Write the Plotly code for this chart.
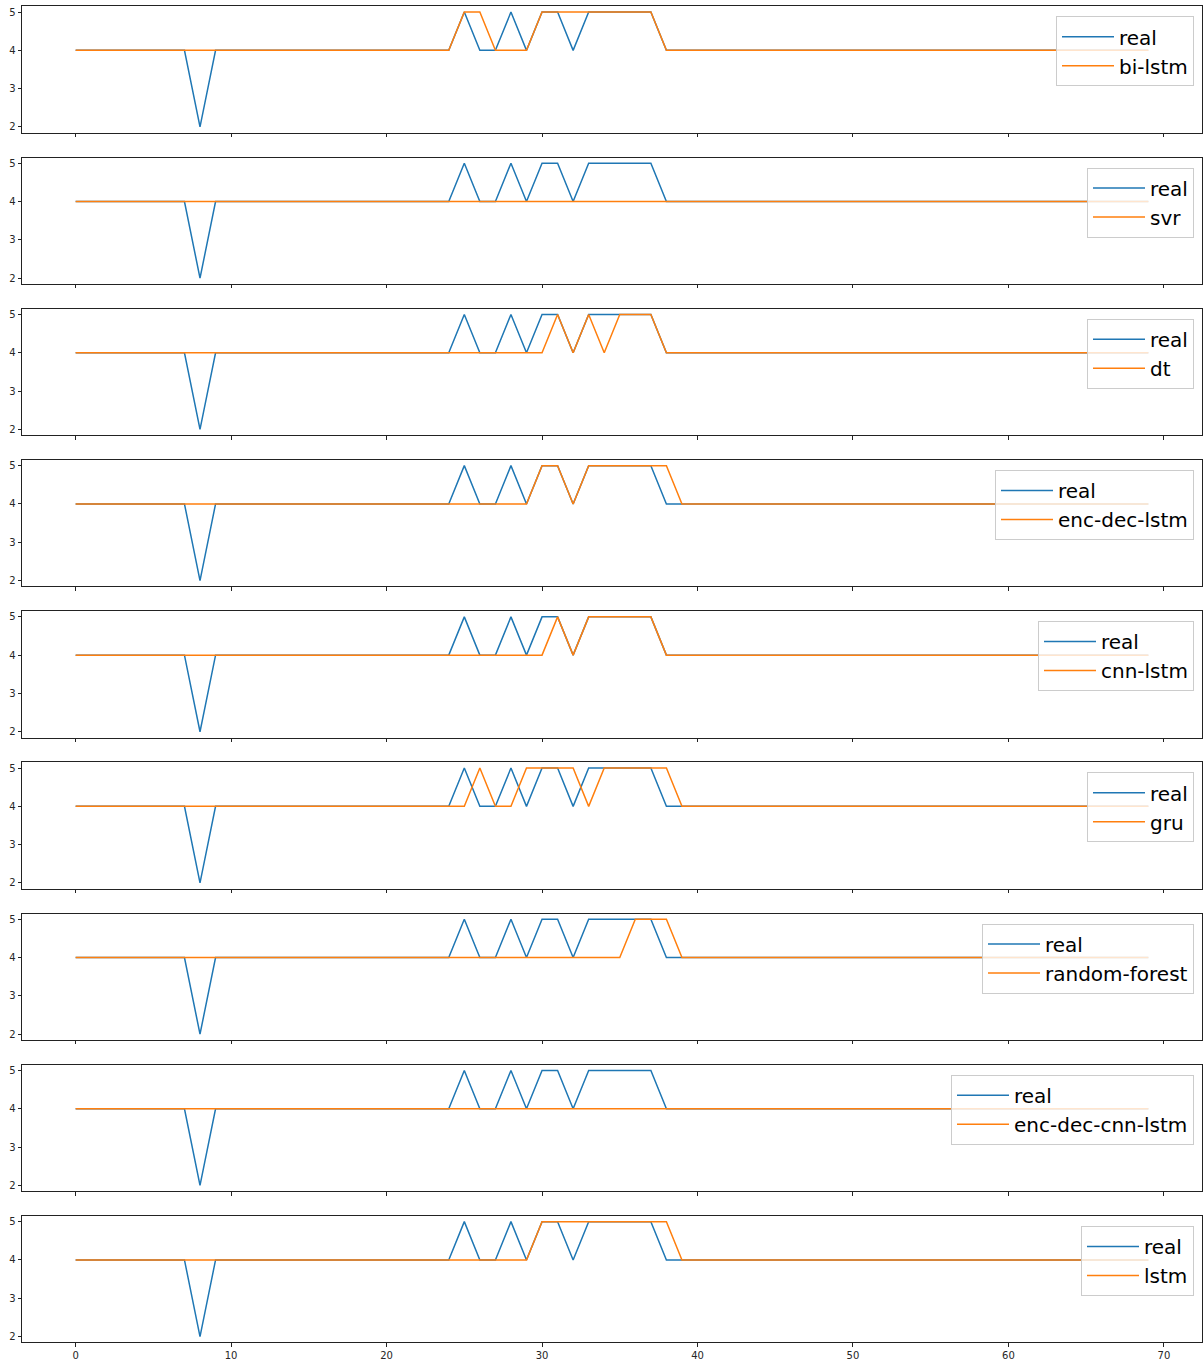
import plotly.graph_objects as go

x_values = list(range(70))

real = [4, 4, 4, 4, 4, 4, 4, 4, 2, 4,
        4, 4, 4, 4, 4, 4, 4, 4, 4, 4,
        4, 4, 4, 4, 4, 5, 4, 4, 5, 4,
        5, 5, 4, 5, 5, 5, 5, 5, 4, 4,
        4, 4, 4, 4, 4, 4, 4, 4, 4, 4,
        4, 4, 4, 4, 4, 4, 4, 4, 4, 4,
        4, 4, 4, 4, 4, 4, 4, 4, 4, 4]

bi_lstm = [4, 4, 4, 4, 4, 4, 4, 4, 4, 4,
           4, 4, 4, 4, 4, 4, 4, 4, 4, 4,
           4, 4, 4, 4, 4, 5, 5, 4, 4, 4,
           5, 5, 5, 5, 5, 5, 5, 5, 4, 4,
           4, 4, 4, 4, 4, 4, 4, 4, 4, 4,
           4, 4, 4, 4, 4, 4, 4, 4, 4, 4,
           4, 4, 4, 4, 4, 4, 4, 4, 4, 4]

svr = [4, 4, 4, 4, 4, 4, 4, 4, 4, 4,
       4, 4, 4, 4, 4, 4, 4, 4, 4, 4,
       4, 4, 4, 4, 4, 4, 4, 4, 4, 4,
       4, 4, 4, 4, 4, 4, 4, 4, 4, 4,
       4, 4, 4, 4, 4, 4, 4, 4, 4, 4,
       4, 4, 4, 4, 4, 4, 4, 4, 4, 4,
       4, 4, 4, 4, 4, 4, 4, 4, 4, 4]

dt = [4, 4, 4, 4, 4, 4, 4, 4, 4, 4,
      4, 4, 4, 4, 4, 4, 4, 4, 4, 4,
      4, 4, 4, 4, 4, 4, 4, 4, 4, 4,
      4, 5, 4, 5, 4, 5, 5, 5, 4, 4,
      4, 4, 4, 4, 4, 4, 4, 4, 4, 4,
      4, 4, 4, 4, 4, 4, 4, 4, 4, 4,
      4, 4, 4, 4, 4, 4, 4, 4, 4, 4]

enc_dec_lstm = [4, 4, 4, 4, 4, 4, 4, 4, 4, 4,
                4, 4, 4, 4, 4, 4, 4, 4, 4, 4,
                4, 4, 4, 4, 4, 4, 4, 4, 4, 4,
                5, 5, 4, 5, 5, 5, 5, 5, 5, 4,
                4, 4, 4, 4, 4, 4, 4, 4, 4, 4,
                4, 4, 4, 4, 4, 4, 4, 4, 4, 4,
                4, 4, 4, 4, 4, 4, 4, 4, 4, 4]

cnn_lstm = [4, 4, 4, 4, 4, 4, 4, 4, 4, 4,
            4, 4, 4, 4, 4, 4, 4, 4, 4, 4,
            4, 4, 4, 4, 4, 4, 4, 4, 4, 4,
            4, 5, 4, 5, 5, 5, 5, 5, 4, 4,
            4, 4, 4, 4, 4, 4, 4, 4, 4, 4,
            4, 4, 4, 4, 4, 4, 4, 4, 4, 4,
            4, 4, 4, 4, 4, 4, 4, 4, 4, 4]

gru = [4, 4, 4, 4, 4, 4, 4, 4, 4, 4,
       4, 4, 4, 4, 4, 4, 4, 4, 4, 4,
       4, 4, 4, 4, 4, 4, 5, 4, 4, 5,
       5, 5, 5, 4, 5, 5, 5, 5, 5, 4,
       4, 4, 4, 4, 4, 4, 4, 4, 4, 4,
       4, 4, 4, 4, 4, 4, 4, 4, 4, 4,
       4, 4, 4, 4, 4, 4, 4, 4, 4, 4]

random_forest = [4, 4, 4, 4, 4, 4, 4, 4, 4, 4,
                 4, 4, 4, 4, 4, 4, 4, 4, 4, 4,
                 4, 4, 4, 4, 4, 4, 4, 4, 4, 4,
                 4, 4, 4, 4, 4, 4, 5, 5, 5, 4,
                 4, 4, 4, 4, 4, 4, 4, 4, 4, 4,
                 4, 4, 4, 4, 4, 4, 4, 4, 4, 4,
                 4, 4, 4, 4, 4, 4, 4, 4, 4, 4]

enc_dec_cnn_lstm = [4, 4, 4, 4, 4, 4, 4, 4, 4, 4,
                    4, 4, 4, 4, 4, 4, 4, 4, 4, 4,
                    4, 4, 4, 4, 4, 4, 4, 4, 4, 4,
                    4, 4, 4, 4, 4, 4, 4, 4, 4, 4,
                    4, 4, 4, 4, 4, 4, 4, 4, 4, 4,
                    4, 4, 4, 4, 4, 4, 4, 4, 4, 4,
                    4, 4, 4, 4, 4, 4, 4, 4, 4, 4]

lstm = [4, 4, 4, 4, 4, 4, 4, 4, 4, 4,
        4, 4, 4, 4, 4, 4, 4, 4, 4, 4,
        4, 4, 4, 4, 4, 4, 4, 4, 4, 4,
        5, 5, 5, 5, 5, 5, 5, 5, 5, 4,
        4, 4, 4, 4, 4, 4, 4, 4, 4, 4,
        4, 4, 4, 4, 4, 4, 4, 4, 4, 4,
        4, 4, 4, 4, 4, 4, 4, 4, 4, 4]

model_names = ["bi-lstm", "svr", "dt", "enc-dec-lstm", "cnn-lstm", "gru",
               "random-forest", "enc-dec-cnn-lstm", "lstm"]
model_preds = [bi_lstm, svr, dt, enc_dec_lstm, cnn_lstm, gru,
               random_forest, enc_dec_cnn_lstm, lstm]

x_ticks = [0, 10, 20, 30, 40, 50, 60, 70]
y_ticks = [2, 3, 4, 5]

W, H = 1203, 1360
BLUE = "#1f77b4"
ORANGE = "#ff7f0e"
FONT = "DejaVu Sans"

top0 = 6.3
panel_h = 126.4
step = 151.2
x_left = 22 / W
x_right = 1202 / W

fig = go.Figure()
layout = dict(
    width=W, height=H,
    margin=dict(l=0, r=0, t=0, b=0),
    paper_bgcolor="white", plot_bgcolor="white",
    font=dict(family=FONT, color="#262626"),
)

n = len(model_names)
for i, (name, pred) in enumerate(zip(model_names, model_preds)):
    idx = "" if i == 0 else str(i + 1)
    leg = "legend" if i == 0 else f"legend{i + 1}"
    top = top0 + i * step
    bot = top + panel_h
    fig.add_trace(go.Scatter(x=x_values, y=real, mode="lines", name="real",
                             line=dict(color=BLUE, width=1.5),
                             xaxis=f"x{idx}", yaxis=f"y{idx}", legend=leg))
    fig.add_trace(go.Scatter(x=x_values, y=pred, mode="lines", name=name,
                             line=dict(color=ORANGE, width=1.5),
                             xaxis=f"x{idx}", yaxis=f"y{idx}", legend=leg))
    common = dict(showline=True, linecolor="#222", linewidth=1, mirror=True,
                  ticks="outside", ticklen=3.5, tickwidth=0.8, tickcolor="#222",
                  showgrid=False, zeroline=False,
                  tickfont=dict(size=10, family=FONT, color="#262626"))
    layout[f"xaxis{idx}"] = dict(
        domain=[x_left, x_right], range=[-3.45, 72.45],
        anchor=f"y{idx}", tickvals=x_ticks,
        showticklabels=(i == n - 1), **common)
    if i > 0:
        layout[f"xaxis{idx}"]["matches"] = "x"
    layout[f"yaxis{idx}"] = dict(
        domain=[1 - bot / H, 1 - top / H], range=[1.85, 5.15],
        anchor=f"x{idx}", tickvals=y_ticks, **common)
    layout[leg] = dict(
        x=1194 / W, y=1 - (top + 10) / H, xanchor="right", yanchor="top",
        bgcolor="rgba(255,255,255,0.8)", bordercolor="#cccccc", borderwidth=1,
        font=dict(size=20, family=FONT, color="#000000"),
        tracegroupgap=0, itemwidth=52)

fig.update_layout(**layout)
fig.write_html(
    "out.html",
    config={"displayModeBar": False},
    post_script="document.body.style.margin='0';document.body.style.overflow='hidden';",
)
